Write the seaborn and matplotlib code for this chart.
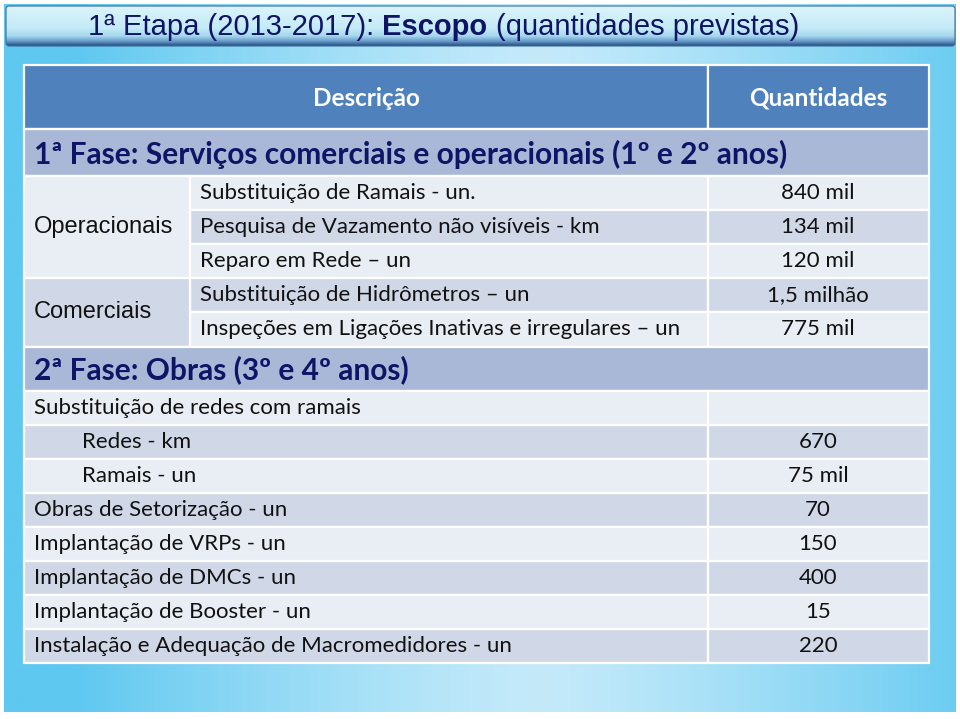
import numpy as np
import matplotlib.pyplot as plt
import seaborn as sns
from matplotlib.patches import Rectangle, FancyBboxPatch
from matplotlib.colors import LinearSegmentedColormap, to_rgb

# ---- content -------------------------------------------------------------
title_parts = ["1ª Etapa (2013-2017):", "Escopo", "(quantidades previstas)"]
header = ["Descrição", "Quantidades"]

phase1_title = "1ª Fase: Serviços comerciais e operacionais (1º e 2º anos)"
phase1_groups = ["Operacionais", "Comerciais"]
phase1_group_sizes = [3, 2]
phase1_items = ["Substituição de Ramais - un.",
                "Pesquisa de Vazamento não visíveis - km",
                "Reparo em Rede – un",
                "Substituição de Hidrômetros – un",
                "Inspeções em Ligações Inativas e irregulares – un"]
phase1_values = ["840 mil", "134 mil", "120 mil", "1,5 milhão", "775 mil"]

phase2_title = "2ª Fase: Obras (3º e 4º anos)"
phase2_items = ["Substituição de redes com ramais",
                "Redes - km",
                "Ramais - un",
                "Obras de Setorização - un",
                "Implantação de VRPs - un",
                "Implantação de DMCs - un",
                "Implantação de Booster - un",
                "Instalação e Adequação de Macromedidores - un"]
phase2_level = [0, 1, 1, 0, 0, 0, 0, 0]
phase2_values = ["", "670", "75 mil", "70", "150", "400", "15", "220"]

# ---- style ---------------------------------------------------------------
HEADER = "#4f81bd"
PHASE = "#a8b8d6"
LIGHT = "#e9edf4"
DARK = "#d0d8e8"
NAVY = "#101466"
TEXT = "#111111"
TABLE_FONT = ["Lato", "DejaVu Sans"]
ARIAL = ["Liberation Sans", "DejaVu Sans"]
BODY = 16

sns.set_theme(style="white")
plt.rcParams['font.family'] = TABLE_FONT

W, H = 960, 719
fig = plt.figure(figsize=(9.6, 7.19), dpi=100)
ax = fig.add_axes([0, 0, 1, 1])
ax.set_xlim(0, W)
ax.set_ylim(H, 0)
ax.axis("off")

# slide background: light in the middle, saturated blue on the sides
edge = np.array(to_rgb("#5ec8f0"))
light = np.array(to_rgb("#c4eafa"))
xx = np.linspace(0, W, 480)
d = np.clip(np.abs(xx - 540) / 470, 0, 1) ** 1.3
bg = light[None, None, :] + (edge - light)[None, None, :] * d[None, :, None]
bg = np.repeat(bg, 2, axis=0)
ax.imshow(bg, extent=[4, 956, 712, 4], aspect="auto", zorder=0, interpolation="bilinear")

# title bar
bar_cmap = LinearSegmentedColormap.from_list(
    "bar", [(0, "#dcf4fb"), (0.55, "#c4ebf7"), (0.75, "#a6d8ee"),
            (0.88, "#6a9dcc"), (1.0, "#234f80")])
bar = ax.imshow(np.linspace(0, 1, 100)[:, None], cmap=bar_cmap, extent=[6, 955, 46, 6],
                aspect="auto", zorder=1, interpolation="bilinear")
clip = FancyBboxPatch((6, 6), 949, 40, boxstyle="round,pad=0,rounding_size=3",
                      transform=ax.transData, facecolor="none", edgecolor="#3c6d9c", lw=0.8, zorder=2)
ax.add_patch(clip)
bar.set_clip_path(clip)

tkw = dict(fontsize=21, color=NAVY, family=ARIAL, zorder=3)
t = ax.text(88, 35, title_parts[0], va="baseline", **tkw)
t = ax.annotate(title_parts[1], xy=(1, 0), xycoords=t, xytext=(6, 0), textcoords="offset points",
                weight="bold", va="bottom", **tkw)
ax.annotate(title_parts[2], xy=(1, 0), xycoords=t, xytext=(6, 0), textcoords="offset points",
            va="bottom", **tkw)

# table geometry
X0, X1, X2, X3 = 24, 190, 708, 929
QX = 818
ROW = 34.1


def cell(x0, x1, y0, y1, color):
    ax.add_patch(Rectangle((x0, y0), x1 - x0, y1 - y0, facecolor=color,
                           edgecolor="white", lw=1.6, zorder=4))


# header
cell(X0, X2, 65, 129, HEADER)
cell(X2, X3, 65, 129, HEADER)
ax.text((X0 + X2) / 2, 98, header[0], color="white", fontsize=17.5, weight="bold",
        ha="center", va="center", zorder=5)
ax.text(QX, 98, header[1], color="white", fontsize=17.5, weight="bold",
        ha="center", va="center", zorder=5)

# phase 1
cell(X0, X3, 129, 176, PHASE)
ax.text(34, 154, phase1_title, color=NAVY, fontsize=21.5, weight="bold", va="center", zorder=5)
y = 176
for i, (item, val) in enumerate(zip(phase1_items, phase1_values)):
    c = LIGHT if i % 2 == 0 else DARK
    cell(X1, X2, y, y + ROW, c)
    cell(X2, X3, y, y + ROW, c)
    ax.text(200, y + ROW / 2, item, color=TEXT, fontsize=BODY, va="center", zorder=5)
    ax.text(QX, y + ROW / 2, val, color=TEXT, fontsize=BODY, ha="center", va="center", zorder=5)
    y += ROW
y = 176
for j, (g, n) in enumerate(zip(phase1_groups, phase1_group_sizes)):
    cell(X0, X1, y, y + n * ROW, LIGHT if j % 2 == 0 else DARK)
    ax.text(34, y + n * ROW / 2, g, color=TEXT, fontsize=17, family=ARIAL, va="center", zorder=5)
    y += n * ROW

# phase 2
p2_top = 176 + len(phase1_items) * ROW
cell(X0, X3, p2_top, p2_top + 44, PHASE)
ax.text(34, p2_top + 23, phase2_title, color=NAVY, fontsize=21.5, weight="bold", va="center", zorder=5)
y = p2_top + 44
for i, (item, lvl, val) in enumerate(zip(phase2_items, phase2_level, phase2_values)):
    c = LIGHT if i % 2 == 0 else DARK
    cell(X0, X2, y, y + ROW, c)
    cell(X2, X3, y, y + ROW, c)
    ax.text(34 + 48 * lvl, y + ROW / 2, item, color=TEXT, fontsize=BODY, va="center", zorder=5)
    ax.text(QX, y + ROW / 2, val, color=TEXT, fontsize=BODY, ha="center", va="center", zorder=5)
    y += ROW

fig.savefig("out.png", dpi=100)
